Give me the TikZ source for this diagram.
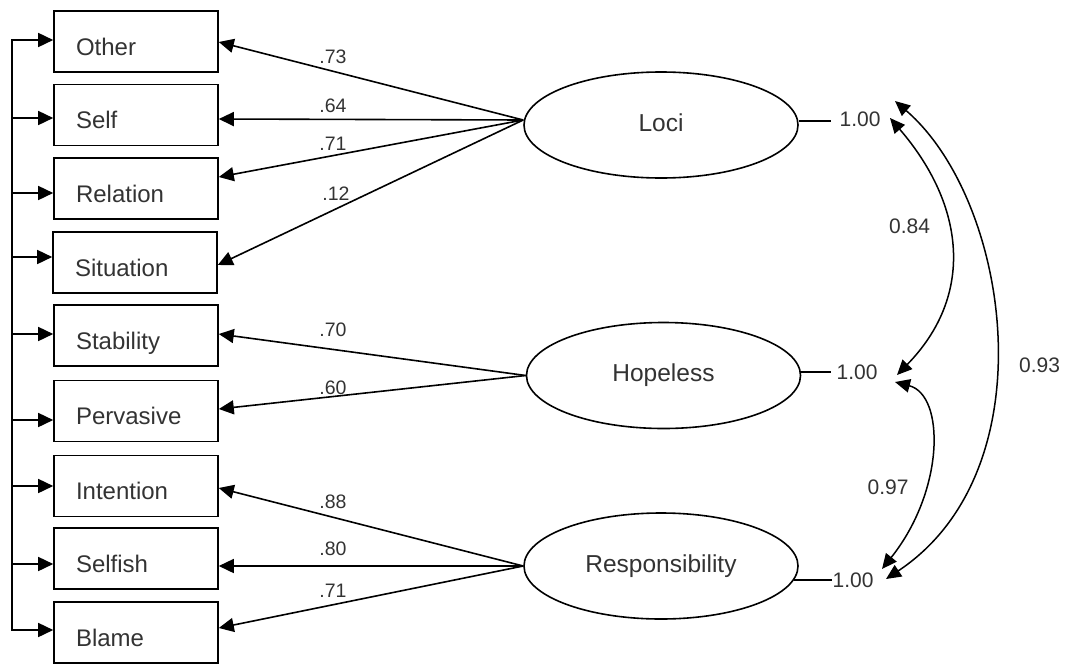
\documentclass[tikz,border=0pt]{standalone}
\usepackage{fontspec}
\setmainfont{Liberation Sans}
\usetikzlibrary{arrows.meta,shapes.geometric}
\begin{document}
\begin{tikzpicture}[x=1pt,y=-1pt,
  obs/.style={draw, line width=1.6pt, rectangle, minimum width=164pt, minimum height=61pt,
    inner xsep=22pt, inner ysep=0pt, text width=120pt, align=left,
    text height=30pt, text depth=3pt, font=\fontsize{24}{24}\selectfont, text=black!80},
  lat/.style={draw, line width=1.6pt, ellipse, minimum width=274pt, minimum height=106pt,
    inner sep=0pt, text height=17.5pt, text depth=5pt, font=\fontsize{24.5}{24}\selectfont, text=black!80},
  coef/.style={font=\fontsize{19.5}{20}\selectfont, text=black!80, inner sep=0pt},
  val/.style={font=\fontsize{21}{21}\selectfont, text=black!80, inner sep=0pt},
  arr/.style={line width=1.6pt, -{Triangle[length=15pt,width=14pt]}},
  darr/.style={line width=1.5pt, {Triangle[length=15pt,width=13.5pt]}-{Triangle[length=15pt,width=13.5pt]}},
  ln/.style={line width=1.6pt}
]
\useasboundingbox (0,0) rectangle (1065,664);

% observed variables
\node[obs] (other)     at (136,41.5)  {Other};
\node[obs] (self)      at (136,115)   {Self};
\node[obs] (relation)  at (136,188.5) {Relation};
\node[obs] (situation) at (135,262.5) {Situation};
\node[obs] (stability) at (136,335.5) {Stability};
\node[obs] (pervasive) at (136,411)   {Pervasive};
\node[obs] (intention) at (136,486)   {Intention};
\node[obs] (selfish)   at (136,558.5) {Selfish};
\node[obs] (blame)     at (136,632.5) {Blame};

% latent variables
\node[lat] (loci) at (661,125)   {Loci};
\node[lat] (hope) at (663.5,375.5) {Hopeless};
\node[lat] (resp) at (661,566)   {Responsibility};

% left bus
\coordinate (bus) at (12,40);
\foreach \n/\s in {other/1.5, self/-3, relation/-4.5, situation/5.5, stability/1.5,
                   pervasive/-9, intention/0, selfish/-5.5, blame/2.5}{
  \coordinate (p\n) at ([yshift=\s pt]\n.west);
}
\draw[ln, line cap=rect] (pother -| bus) -- (pblame -| bus);
\foreach \n in {other,self,relation,situation,stability,pervasive,intention,selfish,blame}{
  \draw[arr] (p\n -| bus) -- (p\n);
}

% loadings
\coordinate (ls) at ([yshift=5pt]loci.west);
\coordinate (hs) at (hope.west);
\coordinate (rs) at (resp.west);
\draw[arr] (ls) -- ([yshift=-0.5pt]other.east);
\draw[arr] (ls) -- ([yshift=-4pt]self.east);
\draw[arr] (ls) -- ([yshift=11.5pt]relation.east);
\draw[arr] (ls) -- ([yshift=-2.5pt]situation.east);
\draw[arr] (hs) -- ([yshift=1.5pt]stability.east);
\draw[arr] (hs) -- ([yshift=2pt]pervasive.east);
\draw[arr] (rs) -- ([yshift=-2pt]intention.east);
\draw[arr] (rs) -- ([yshift=-7.5pt]selfish.east);
\draw[arr] (rs) -- ([yshift=4.5pt]blame.east);

\node[coef] (c1) at (333,57)    {.73};
\node[coef] (c2) at (333,105.5) {.64};
\node[coef] (c3) at (333,143.5) {.71};
\node[coef] (c4) at (336,193.5) {.12};
\node[coef] (c5) at (333,330)   {.70};
\node[coef] (c6) at (333,387.5) {.60};
\node[coef] (c7) at (333,502)   {.88};
\node[coef] (c8) at (333,549)   {.80};
\node[coef] (c9) at (333,590.5) {.71};

% variances
\node[val] (v1) at (860,119)   {1.00};
\node[val] (v2) at (857,372.5) {1.00};
\node[val] (v3) at (853,580)   {1.00};
\coordinate (l1s) at ([yshift=4pt]loci.east);
\coordinate (l1e) at ([xshift=-8.5pt]v1.west);
\coordinate (l2s) at ([yshift=3.5pt]hope.east);
\coordinate (l2e) at ([xshift=-5.5pt]v2.west);
\coordinate (l3s) at (resp.-6);
\coordinate (l3e) at (v3.west);
\draw[ln] (l1s) -- (l1s -| l1e);
\draw[ln] (l2s) -- (l2s -| l2e);
\draw[ln] (l3s) -- (l3s -| l3e);

% correlations
\coordinate (a84) at (890,118);
\coordinate (b84) at (897,375);
\coordinate (a97) at (895,382);
\coordinate (b97) at (882,569);
\coordinate (a93) at (895,101);
\coordinate (b93) at (886,579);
\draw[darr] (a84) .. controls (965,205) and (975,295) .. (b84);
\draw[darr] (a97) .. controls (945,395) and (945,490) .. (b97);
\draw[darr] (a93) .. controls (1010,200) and (1050,470) .. (b93);
\node[val] (r1) at (909.5,226)  {0.84};
\node[val] (r2) at (888,487)    {0.97};
\node[val] (r3) at (1039.5,365.5) {0.93};
\end{tikzpicture}
\end{document}
